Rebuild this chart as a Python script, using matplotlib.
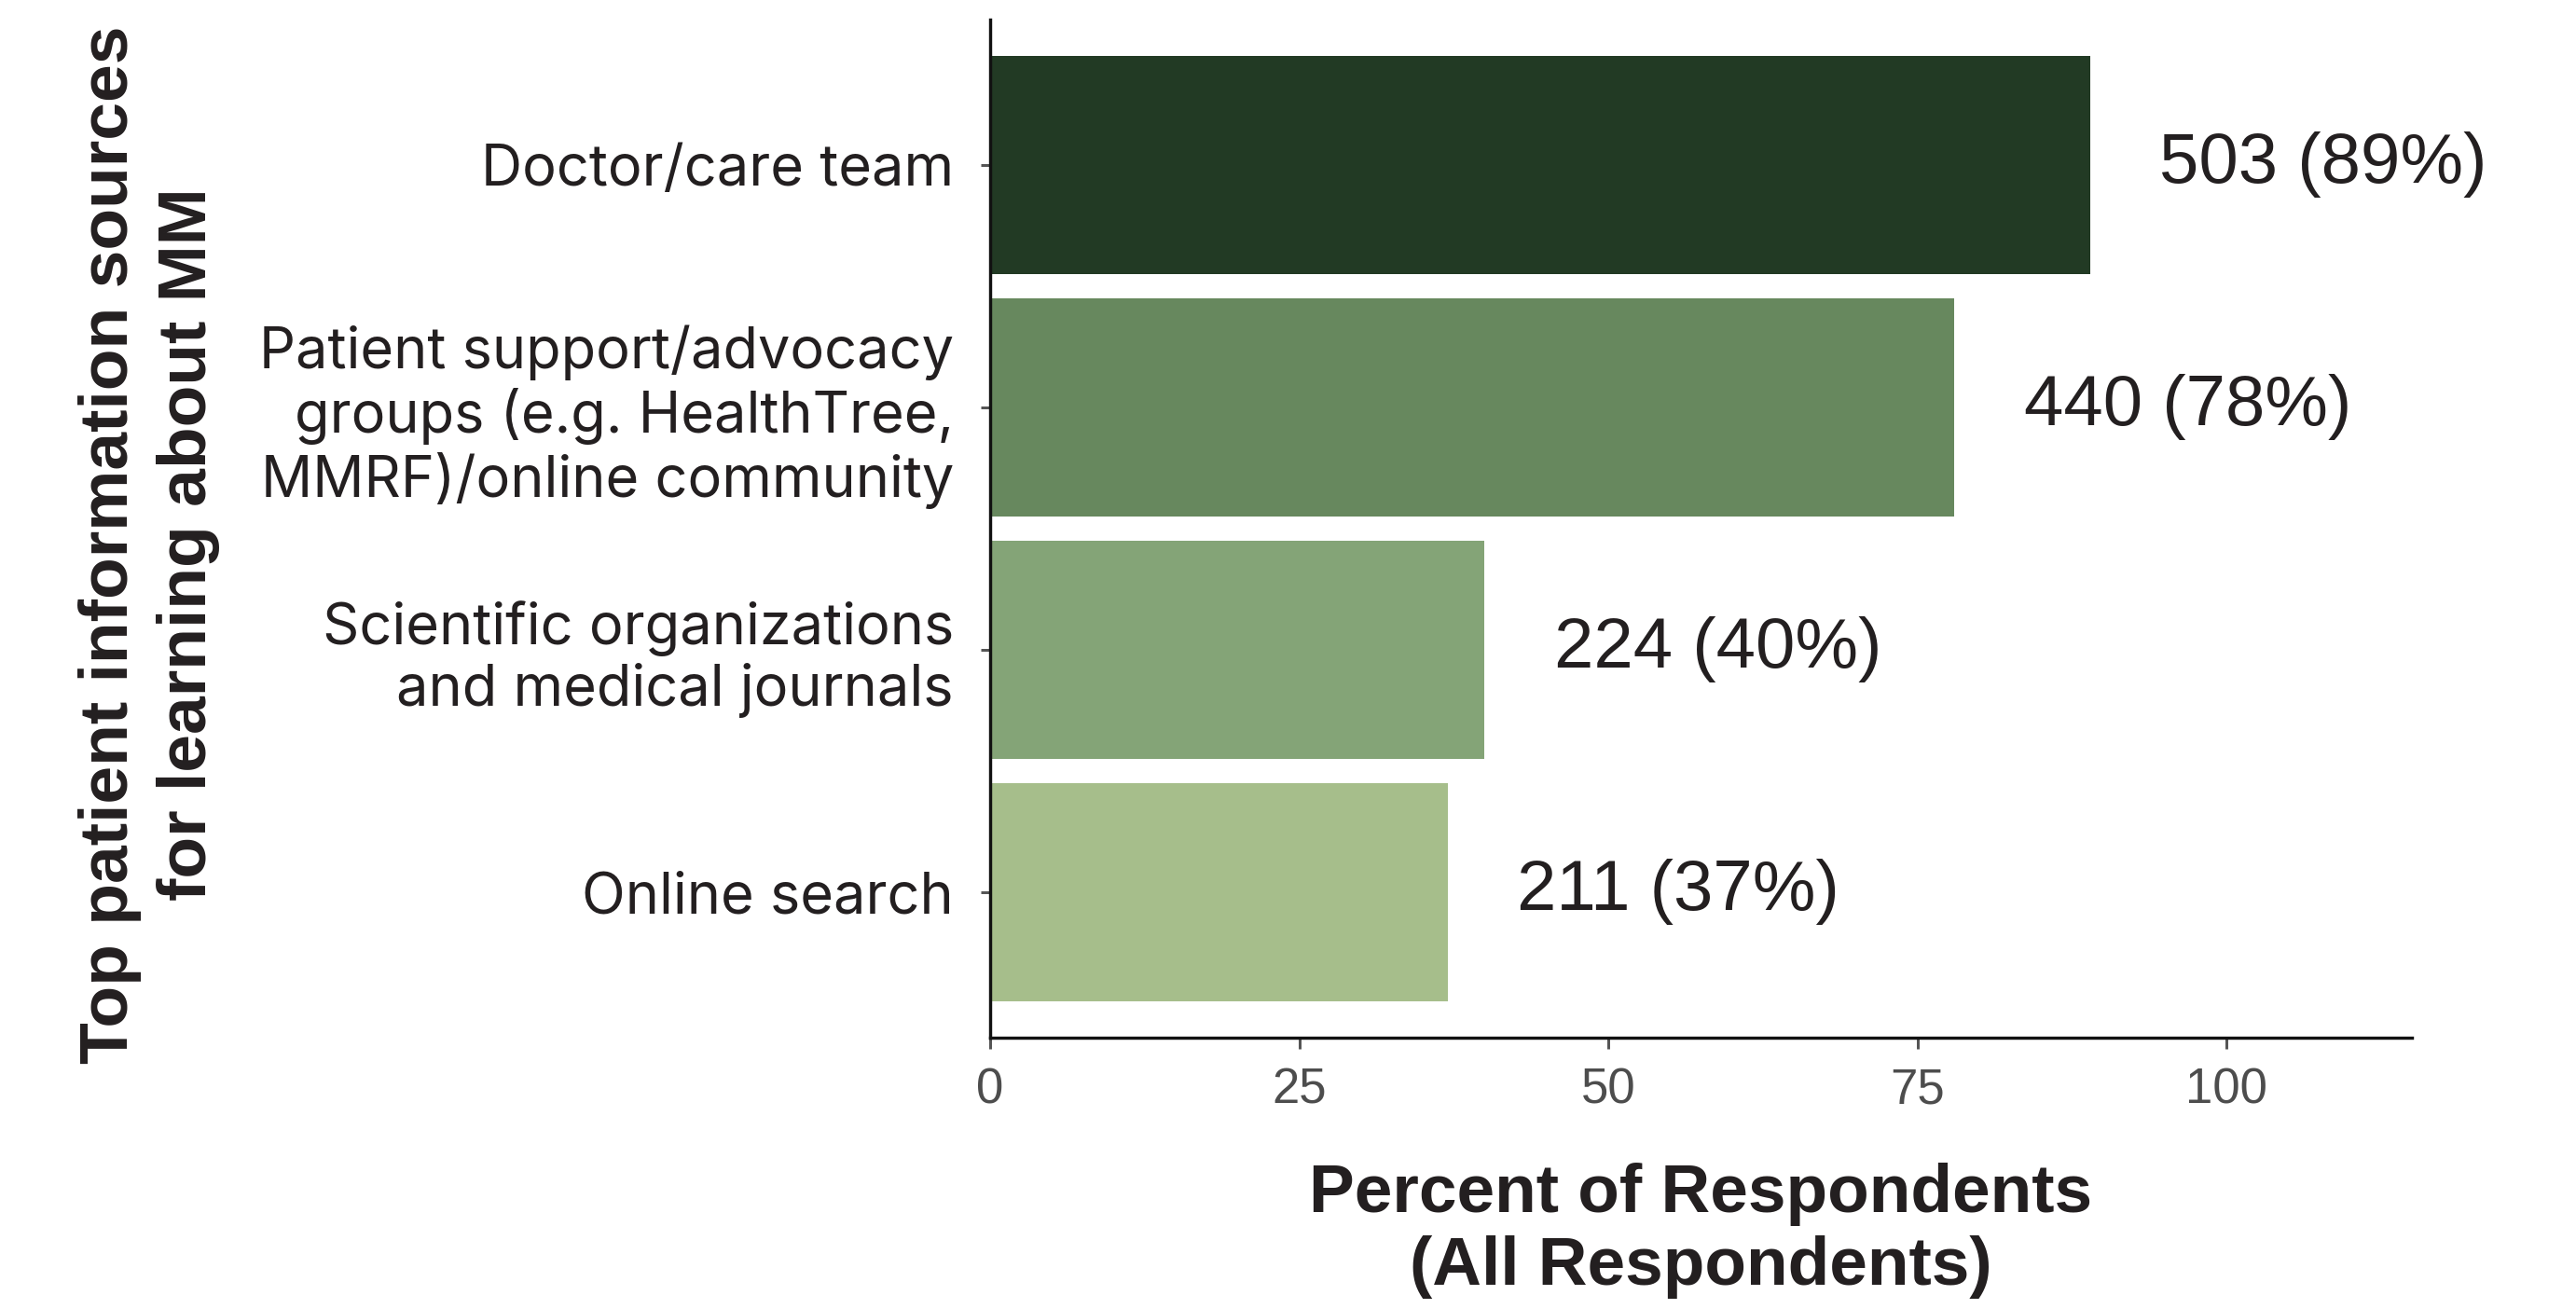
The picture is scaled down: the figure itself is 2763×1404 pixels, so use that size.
import matplotlib
matplotlib.use("Agg")
import matplotlib.pyplot as plt

categories = ["Doctor/care team",
              "Patient support/advocacy\ngroups (e.g. HealthTree,\nMMRF)/online community",
              "Scientific organizations\nand medical journals",
              "Online search"]
counts = [503, 440, 224, 211]
percents = [89, 78, 40, 37]
colors = ["#223A24", "#67885E", "#84A477", "#A6BE8B"]
xticks = [0, 25, 50, 75, 100]

W, H, DPI = 2763, 1404, 100
fig = plt.figure(figsize=(W / DPI, H / DPI), dpi=DPI)
renderer = fig.canvas.get_renderer()

def fit(text, target_px, **kw):
    t = fig.text(0, 0, text, fontsize=100, **kw)
    w = t.get_window_extent(renderer).width
    t.remove()
    return 100 * target_px / w

cat_font = ["Inter", "DejaVu Sans"]
val_font = ["Liberation Sans", "DejaVu Sans"]
narrow = ["Liberation Sans Narrow", "Liberation Sans", "DejaVu Sans"]

cat_fs = fit("Patient support/advocacy", 745, family=cat_font)
val_fs = fit("503 (89%)", 351, family=val_font)
tick_fs = fit("100", 88, family=narrow)
ytitle_fs = fit("Top patient information sources", 1115, family=narrow, weight="bold")
xtitle_fs = fit("Percent of Respondents", 840, family=narrow, weight="bold")

left, right = 1062 / W, 2587 / W
top, bottom = 1 - 21 / H, 1 - 1113 / H
ax = fig.add_axes([left, bottom, right - left, top - bottom])

n = len(categories)
ypos = [n - i for i in range(n)]
ax.barh(ypos, percents, height=0.9, color=colors, zorder=2)
ax.set_xlim(0, 115)
ax.set_ylim(0.4, n + 0.6)

for y, c, p in zip(ypos, counts, percents):
    ax.text(p + 5.6, y, f"{c} ({p}%)", ha="left", va="center",
            fontsize=val_fs, family=val_font, color="#231F20")

ax.set_yticks(ypos)
px = 72 / DPI
line_px = 70
ax.set_yticklabels(categories, family=cat_font, fontsize=cat_fs, color="#231F20",
                   linespacing=1.23 * line_px / (cat_fs / px * 1.21), ha="right",
                   multialignment="right")
ax.set_xticks(xticks)
ax.set_xticklabels([str(v) for v in xticks], family=narrow, fontsize=tick_fs, color="#4D4D4D")
ax.tick_params(axis="y", length=10 * px, width=3 * px, color="#555555", pad=21)
ax.tick_params(axis="x", length=12 * px, width=3 * px, color="#555555", pad=14)

for s in ["top", "right"]:
    ax.spines[s].set_visible(False)
for s in ["left", "bottom"]:
    ax.spines[s].set_linewidth(3.4 * px)
    ax.spines[s].set_color("#111111")

fig.text(160 / W, 1 - 584 / H, "Top patient information sources\nfor learning about MM",
         rotation=90, ha="center", va="center", multialignment="center",
         fontsize=ytitle_fs, family=narrow, weight="bold", color="#231F20",
         linespacing=1.29)
fig.text(1824 / W, 1 - 1320 / H, "Percent of Respondents\n(All Respondents)",
         ha="center", va="center", multialignment="center",
         fontsize=xtitle_fs, family=narrow, weight="bold", color="#231F20",
         linespacing=1.18)

fig.savefig("out.png", dpi=DPI, facecolor="white")
